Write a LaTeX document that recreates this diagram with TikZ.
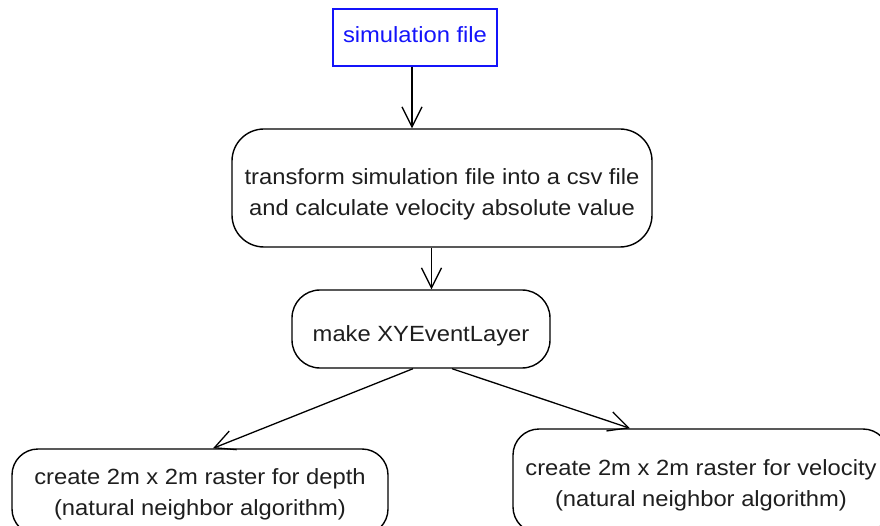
\documentclass[tikz,border=0pt]{standalone}
\usepackage{fontspec}
\setmainfont{Liberation Sans}[FakeStretch=1.08]
\usetikzlibrary{arrows.meta,calc}
\definecolor{txt}{RGB}{30,30,30}
\definecolor{fileblue}{RGB}{20,20,250}
% centred lines of text, moved vertically by #1 without changing the node size
\newcommand{\boxtext}[2]{\raisebox{#1}[\height][\depth]{\begin{tabular}{@{}c@{}}#2\end{tabular}}}
\begin{document}
\begin{tikzpicture}[x=1pt,y=-1pt,
  every node/.style={font=\fontsize{22}{31}\selectfont, text=txt, inner sep=0pt},
  filebox/.style={draw=fileblue, line width=1.4pt, text=fileblue, rectangle},
  actbox/.style={draw=black, line width=1.4pt, rectangle, rounded corners=#1},
  flow/.style={draw=black, line width=1.3pt, -{Straight Barb[length=20pt,width=20pt,line width=1.3pt]}}
]
\useasboundingbox (0,0) rectangle (880,526);
\clip (0,0) rectangle (880,526);

\node[filebox, minimum width=164pt, minimum height=57pt] (sim) at (415,37.5)
  {\boxtext{0.7pt}{simulation file}};
\node[actbox=32pt, minimum width=420pt, minimum height=118pt] (trans) at (442,188)
  {\boxtext{-6.3pt}{transform simulation file into a csv file\\and calculate velocity absolute value}};
\node[actbox=28pt, minimum width=258pt, minimum height=78pt] (xy) at (421,329)
  {\boxtext{-6pt}{make XYEventLayer}};
\node[actbox=26pt, minimum width=376pt, minimum height=86pt] (depth) at (200,492)
  {\boxtext{-1.3pt}{create 2m x 2m raster for depth\\(natural neighbor algorithm)}};
\node[actbox=26pt, minimum width=376pt, minimum height=104pt] (vel) at (701,481)
  {\boxtext{-3.3pt}{create 2m x 2m raster for velocity\\(natural neighbor algorithm)}};

\coordinate (m) at ($(trans.south)!0.5!(xy.north)$);
\draw[flow] ([xshift=-3pt]sim.south) -- ([xshift=-3pt]sim.south |- trans.north);
\draw[flow] (m |- trans.south) -- (m |- xy.north);
\draw[flow] ([xshift=-8pt]xy.south) -- ([xshift=13pt]depth.north);
\draw[flow] ([xshift=31pt]xy.south) -- ([xshift=-71pt]vel.north);
\end{tikzpicture}
\end{document}
